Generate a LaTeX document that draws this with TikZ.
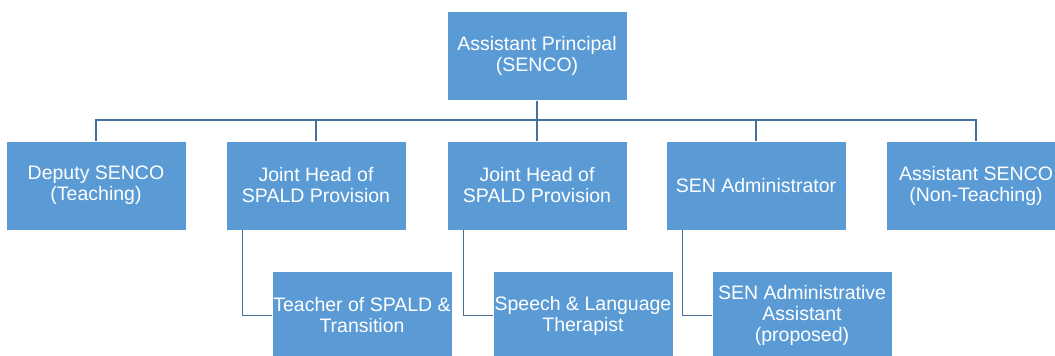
\documentclass[tikz,border=0pt]{standalone}
\usepackage{fontspec}
\setmainfont{Liberation Sans}
\usepackage{tikz}

\definecolor{boxblue}{HTML}{5B9BD5}
\definecolor{lineblue}{HTML}{41719C}

\begin{document}
\begin{tikzpicture}[x=1pt, y=1pt,
            main node/.style={rectangle, fill=boxblue, draw=white, line width=0.8pt, text=white,
                minimum width=180pt, minimum height=89pt, inner sep=1pt, align=center,
                font=\fontsize{19.5}{21}\selectfont},
            link/.style={draw=lineblue, line width=1.4pt},
            ]
            \def\rowA{-185.5}
            \def\rowB{-315.5}

            \clip (0,0) rectangle (1055,-356);

            \node[main node] (0) at (537,-56) {Assistant Principal\\(SENCO)};

            \node[main node] (1) at (96,\rowA) {Deputy SENCO\\(Teaching)};
            \node[main node] (2) at (316,\rowA) {Joint Head of\\SPALD Provision};
            \node[main node] (3) at (537,\rowA) {Joint Head of\\SPALD Provision};
            \node[main node] (4) at (756,\rowA) {SEN Administrator};
            \node[main node] (5) at (976,\rowA) {Assistant SENCO\\(Non-Teaching)};

            \node[main node] (6) at (362,\rowB) {Teacher of SPALD \&\\Transition};
            \node[main node] (7) at (583,\rowB) {Speech \& Language\\Therapist};
            \node[main node] (8) at (802,\rowB) {SEN Administrative\\Assistant\\(proposed)};

            \draw[link] (0.south) -- ++(0,-19) -| (1.north);
            \draw[link] (0.south) -- ++(0,-19) -| (2.north);
            \draw[link] (0.south) -- (3.north);
            \draw[link] (0.south) -- ++(0,-19) -| (4.north);
            \draw[link] (0.south) -- ++(0,-19) -| (5.north);

            \draw[link] ([xshift=17pt]2.south west) |- (6.west);
            \draw[link] ([xshift=17pt]3.south west) |- (7.west);
            \draw[link] ([xshift=17pt]4.south west) |- (8.west);
        \end{tikzpicture}
\end{document}
